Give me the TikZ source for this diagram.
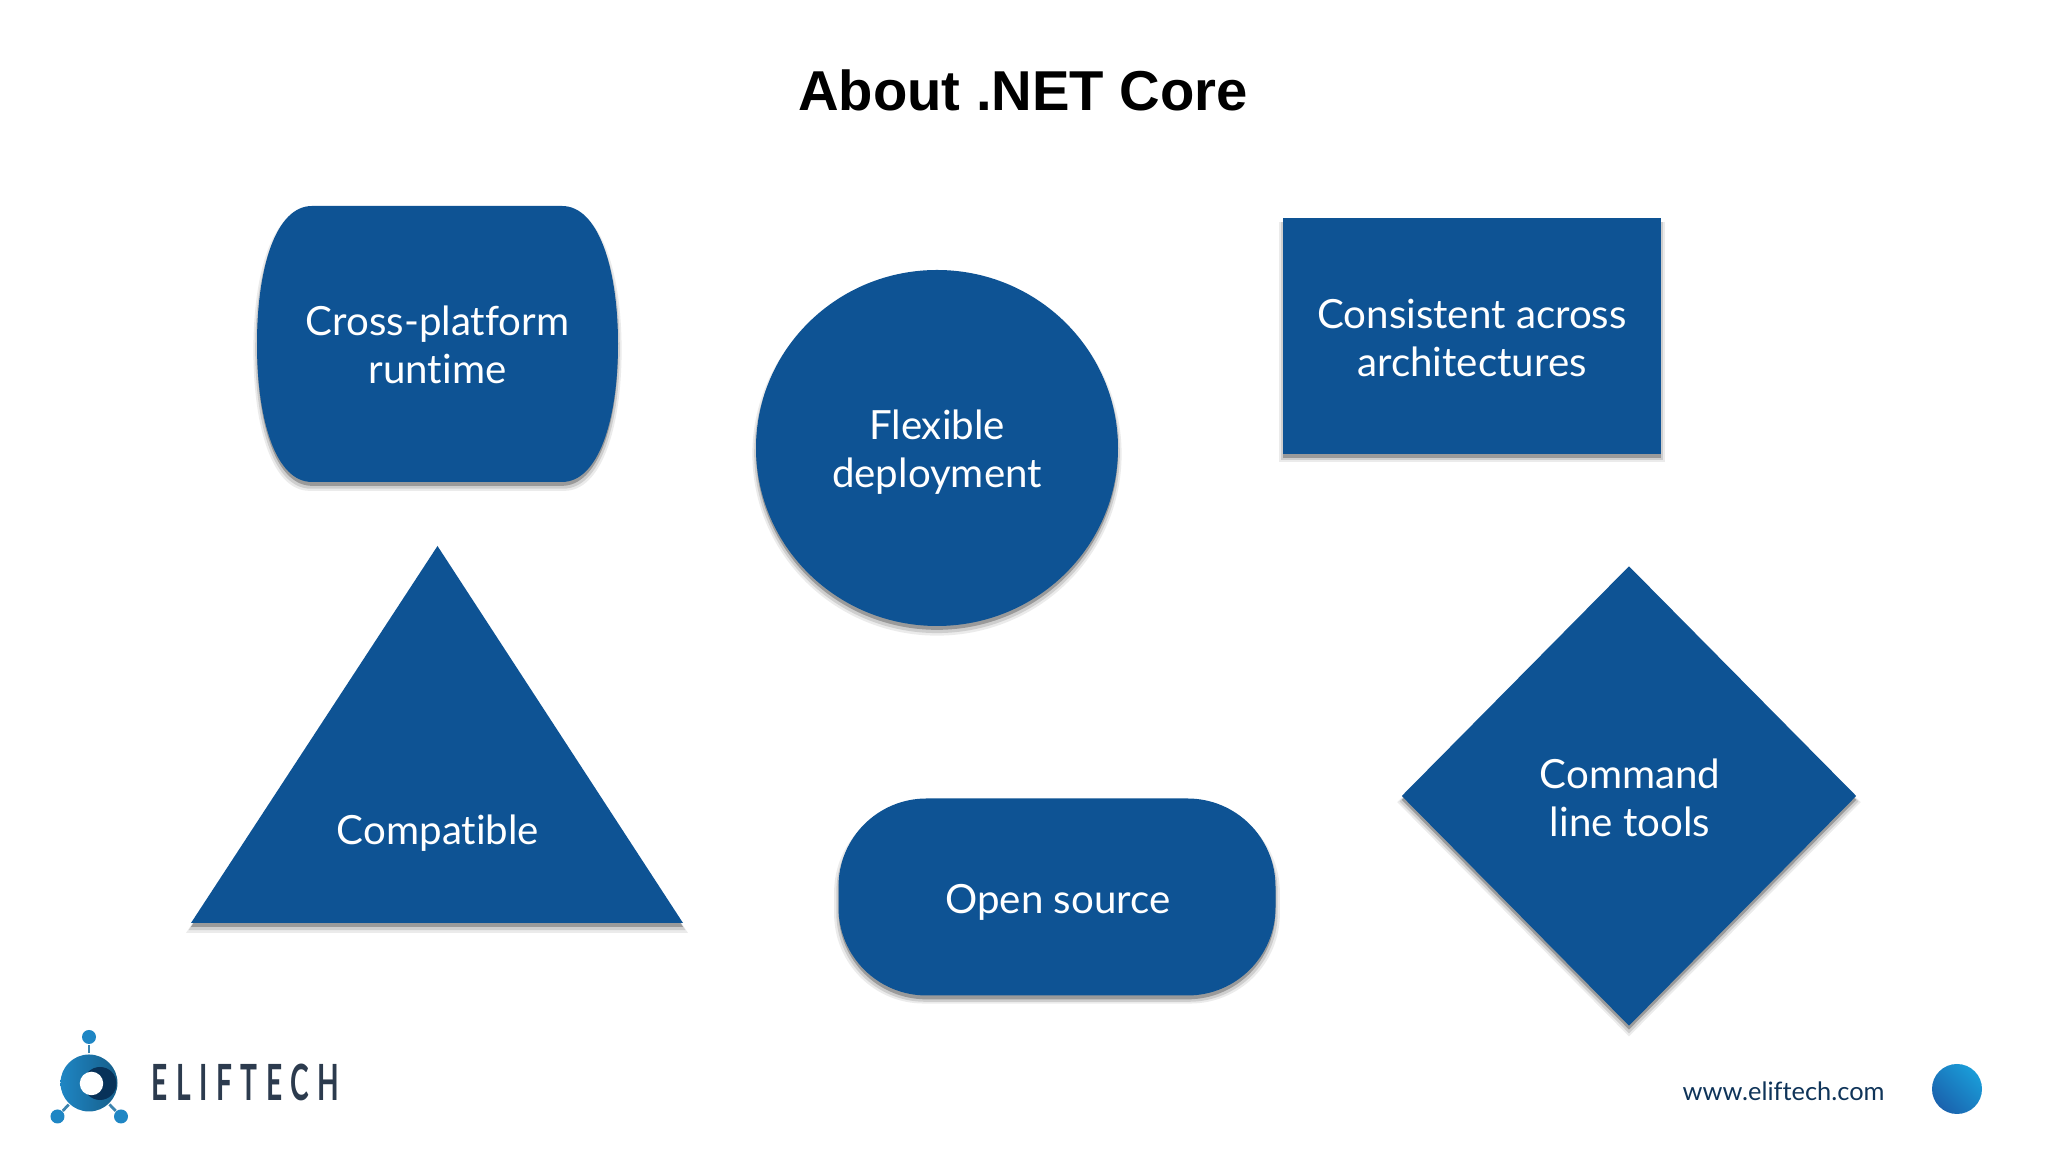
\documentclass[tikz,border=0pt]{standalone}
\usepackage{fontspec}
\setmainfont[Ligatures=NoCommon]{Lato}
\newfontfamily\titlefont{Liberation Sans}
\newfontfamily\logofont[LetterSpace=30]{Lato}
\usetikzlibrary{shapes.geometric,shadows}
\definecolor{shapeblue}{HTML}{0E5394}
\definecolor{ballblue}{HTML}{1F86C4}
\definecolor{logotext}{HTML}{2C3B4E}
\definecolor{urltext}{HTML}{0F3459}
\definecolor{dotdark}{HTML}{1A62AD}
\definecolor{dotlight}{HTML}{1A9CD8}
\tikzset{
	blueshape/.style={fill=shapeblue,
		general shadow={shadow scale=1.02, shadow yshift=-1.7pt, fill=black, opacity=0.08},
		general shadow={shadow scale=1.01, shadow yshift=-1.5pt, fill=black, opacity=0.12},
		general shadow={shadow yshift=-1.1pt, fill=black, opacity=0.25}},
	shapelabel/.style={text=white, align=center, font=\fontsize{11.45}{13.7}\selectfont},
	logoball/.style={circle, fill=ballblue, inner sep=0pt, minimum size=0.14cm}
}
\begin{document}
\begin{tikzpicture}
	\useasboundingbox (0,0) rectangle (20.48,11.52);

	% Title
	\node[font=\titlefont\bfseries\fontsize{16}{20}\selectfont] (title) at (10.23,10.62) {About .NET Core};

	% Barrel shape
	\path[blueshape] (3.12,9.46) -- (5.62,9.46) .. controls (5.98,9.46) and (6.18,8.85) .. (6.18,8.08)
		.. controls (6.18,7.31) and (5.98,6.70) .. (5.62,6.70) -- (3.12,6.70)
		.. controls (2.76,6.70) and (2.57,7.31) .. (2.57,8.08)
		.. controls (2.57,8.85) and (2.76,9.46) .. (3.12,9.46) -- cycle;
	\node[shapelabel] (runtime) at (4.375,8.07) {Cross-platform\\runtime};

	% Circle
	\node[blueshape, ellipse, minimum width=3.62cm, minimum height=3.56cm, inner sep=0pt] (circ) at (9.37,7.04) {};
	\node[shapelabel] (deployment) at (9.37,6.995) {Flexible\\deployment};

	% Rectangle
	\node[blueshape, rectangle, minimum width=3.78cm, minimum height=2.36cm, inner sep=0pt] (rect) at (14.72,8.16) {};
	\node[shapelabel] (consistent) at (14.72,8.14) {Consistent across\\architectures};

	% Pill
	\node[blueshape, rectangle, rounded corners=0.88cm, minimum width=4.37cm, minimum height=1.97cm, inner sep=0pt] (pill) at (10.57,2.55) {};
	\node[shapelabel] (opensource) at (10.58,2.50) {Open source};

	% Triangle
	\path[blueshape] (4.375,6.06) -- (6.83,2.29) -- (1.91,2.29) -- cycle;
	\node[shapelabel] (compatible) at (4.38,3.19) {Compatible};

	% Diamond
	\node[blueshape, diamond, minimum width=4.55cm, minimum height=4.60cm, inner sep=0pt] (diam) at (16.29,3.56) {};
	\node[shapelabel] (tools) at (16.30,3.545) {Command\\line tools};

	% Logo
	\node[logoball] (balltop) at (0.89,1.15) {};
	\node[logoball] (ballleft) at (0.575,0.355) {};
	\node[logoball] (ballright) at (1.21,0.355) {};
	\node[circle, inner sep=0pt, minimum size=0.58cm] (hub) at (0.89,0.69) {};
	\draw[ballblue!70!gray, line width=0.8pt] (hub) -- (balltop);
	\draw[ballblue!70!gray, line width=0.8pt] (hub) -- (ballleft);
	\draw[ballblue!70!gray, line width=0.8pt] (hub) -- (ballright);
	\shade[left color=ballblue, right color=ballblue!70!black] (hub.center) circle (0.285);
	\fill[shapeblue!60!black] (1.00,0.685) circle (0.165);
	\node[circle, fill=white, inner sep=0pt, minimum size=0.235cm] (hubhole) at (0.915,0.685) {};
	\node[anchor=base west, inner sep=0pt, text=logotext] (eliftech) at (1.51,0.515)
		{\scalebox{0.565}[1]{\logofont\bfseries\fontsize{14.2}{15}\selectfont ELIFTECH}};

	% Footer
	\node[anchor=base west, inner sep=0pt, text=urltext, font=\fontsize{7.23}{9}\selectfont] (url) at (16.82,0.518) {www.eliftech.com};
	\node[circle, inner sep=0pt, minimum size=0.5cm, shading=axis, left color=dotdark, right color=dotlight, shading angle=135] (dot) at (19.57,0.63) {};
\end{tikzpicture}
\end{document}
